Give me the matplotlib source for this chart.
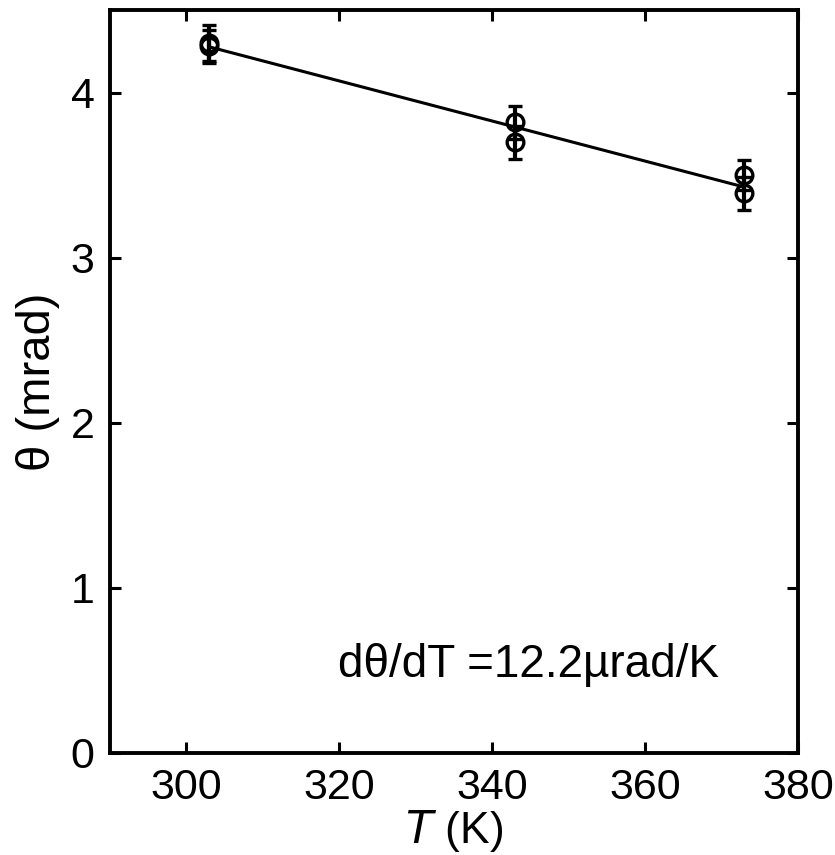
import numpy as np
import matplotlib
matplotlib.use("Agg")
import matplotlib.pyplot as plt

# ---- data ----
temps = [303, 303, 343, 343, 373, 373]          # T (K)
theta = [4.30, 4.28, 3.82, 3.70, 3.50, 3.39]    # theta (mrad)
theta_err = [0.11, 0.10, 0.10, 0.10, 0.09, 0.10]

x_ticks = [300, 320, 340, 360, 380]
y_ticks = [0, 1, 2, 3, 4]
slope_note = "dθ/dT =12.2µrad/K"

plt.rcParams['font.family'] = ['Liberation Sans', 'DejaVu Sans']
plt.rcParams['font.size'] = 31

fig = plt.figure(figsize=(8.35, 8.55), dpi=100)
ax = fig.add_axes([0.1317, 0.1193, 0.824, 0.869])

# linear fit through the points
x = np.array(temps)
y = np.array(theta)
p = np.polyfit(x, y, 1)
xf = np.array([x.min(), x.max()])
ax.plot(xf, np.polyval(p, xf), color='black', lw=2.2)

ax.errorbar(x, y, yerr=theta_err, fmt='o', mfc='none', mec='black',
            ms=12, mew=2.4, ecolor='black', elinewidth=3, capsize=5,
            capthick=3, color='black')

ax.set_xlim(290, 380)
ax.set_ylim(0, 4.5)
ax.set_xticks(x_ticks)
ax.set_yticks(y_ticks)
ax.tick_params(direction='in', length=8, width=2.2, top=True, right=True,
               pad=11)
for s in ax.spines.values():
    s.set_linewidth(2.8)

ax.set_xlabel('$T$ (K)', labelpad=0, fontsize=32)
ax.set_ylabel('θ (mrad)', labelpad=8, fontsize=34)
ax.text(319.8, 0.53, slope_note, ha='left', va='center', fontsize=33)

fig.savefig('out.png', dpi=100)
